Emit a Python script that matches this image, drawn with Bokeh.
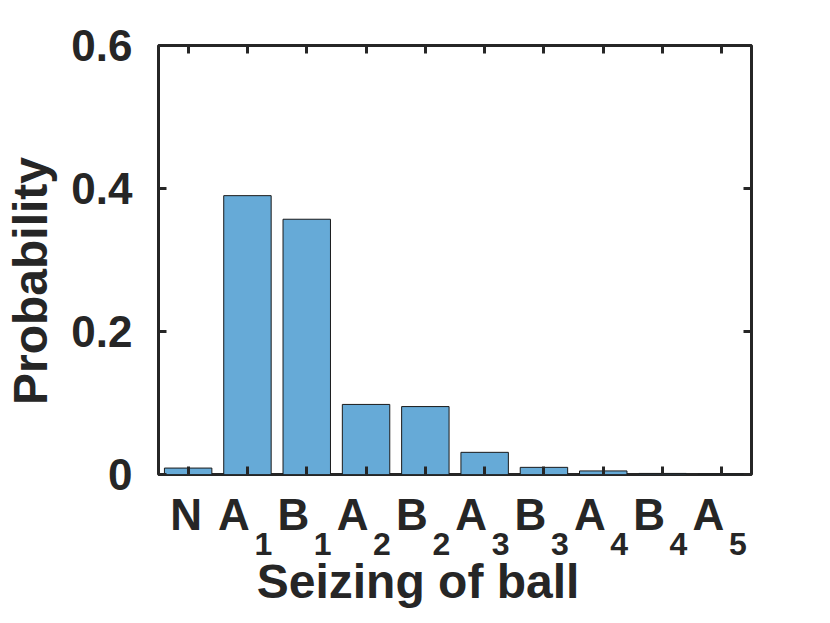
from bokeh.plotting import figure
from bokeh.models import (Range1d, FixedTicker, LinearAxis,
                          CustomJSTickFormatter, NumeralTickFormatter)
from bokeh.embed import file_html
from bokeh.resources import INLINE

# ---- data ----
letters = ["N", "A", "B", "A", "B", "A", "B", "A", "B", "A"]
subscripts = ["", "1", "1", "2", "2", "3", "3", "4", "4", "5"]
probability = [0.009, 0.390, 0.357, 0.098, 0.095, 0.031, 0.010, 0.005, 0.0015, 0.0005]
y_ticks = [0, 0.2, 0.4, 0.6]
x_title = "Seizing of ball"
y_title = "Probability"

xs = [i + 1 for i in range(len(letters))]

FONT = "Liberation Sans"
INK = "#262626"
BAR = "#66aad7"

FRAME_W, FRAME_H = 594, 429
W, H = 814, 620
LEFT, TOP = 157, 45
PX = FRAME_W / 10.0          # pixels per category unit
PY = FRAME_H / 0.6           # pixels per probability unit

p = figure(width=W, height=H, output_backend="svg", toolbar_location=None,
           x_range=Range1d(0.5, 10.5), y_range=Range1d(0, 0.6),
           min_border_left=LEFT, min_border_right=W - LEFT - FRAME_W,
           min_border_top=TOP, min_border_bottom=H - TOP - FRAME_H)
p.xgrid.visible = False
p.ygrid.visible = False
p.outline_line_color = INK
p.outline_line_width = 3
p.background_fill_color = "white"
p.border_fill_color = "white"

p.vbar(x=xs, top=probability, width=0.8, fill_color=BAR,
       line_color="#1a1a1a", line_width=1)

def blank():
    return CustomJSTickFormatter(code="return ''")

def tick_axis(ax):
    ax.axis_line_color = None
    ax.major_tick_in = 8
    ax.major_tick_out = 0
    ax.major_tick_line_width = 3
    ax.major_tick_line_color = INK
    ax.minor_tick_line_color = None

def text_axis(ax, size, standoff):
    ax.axis_line_color = None
    ax.major_tick_line_color = None
    ax.major_tick_in = 0
    ax.major_tick_out = 0
    ax.minor_tick_line_color = None
    ax.major_label_text_font = FONT
    ax.major_label_text_font_style = "bold"
    ax.major_label_text_font_size = size
    ax.major_label_text_color = INK
    ax.major_label_standoff = standoff

# bottom: tick-only axis
xa = p.xaxis[0]
xa.ticker = FixedTicker(ticks=xs)
xa.formatter = blank()
tick_axis(xa)
xa.major_label_standoff = 0
xa.major_label_text_font_size = "1px"

# bottom: category letters (A/B shifted left so letter+subscript is centred)
let_ticks = [x + (-2 if s == "" else -13.5) / PX for x, s in zip(xs, subscripts)]
la = LinearAxis(ticker=FixedTicker(ticks=let_ticks),
                formatter=CustomJSTickFormatter(args=dict(labs=letters),
                                                code="return labs[Math.round(tick) - 1]"))
text_axis(la, "44px", 15)
p.add_layout(la, "below")

# bottom: subscripts
sub_ticks = [x + 16 / PX for x, s in zip(xs, subscripts) if s]
sa = LinearAxis(ticker=FixedTicker(ticks=sub_ticks),
                formatter=CustomJSTickFormatter(args=dict(labs=subscripts),
                                                code="return labs[Math.round(tick) - 1]"))
text_axis(sa, "32px", -9)
p.add_layout(sa, "below")

# bottom: x title
xt_pos = 5.5 - 37 / PX
xta = LinearAxis(ticker=FixedTicker(ticks=[xt_pos]),
                 formatter=CustomJSTickFormatter(args=dict(t=x_title), code="return t"))
text_axis(xta, "48px", -3)
p.add_layout(xta, "below")

# left y axis with numbers
ya = p.yaxis[0]
ya.ticker = FixedTicker(ticks=y_ticks)
ya.formatter = NumeralTickFormatter(format="0.[0]")
tick_axis(ya)
ya.major_label_text_font = FONT
ya.major_label_text_font_style = "bold"
ya.major_label_text_font_size = "44px"
ya.major_label_text_color = INK
ya.major_label_standoff = 26

# left: y title
yt_pos = 0.3 - 21 / PY
yta = LinearAxis(ticker=FixedTicker(ticks=[yt_pos]),
                 formatter=CustomJSTickFormatter(args=dict(t=y_title), code="return t"))
text_axis(yta, "48px", 12)
yta.major_label_orientation = "parallel"
p.add_layout(yta, "left")

# right and top axes (box ticks)
ra = LinearAxis(ticker=FixedTicker(ticks=y_ticks), formatter=blank())
tick_axis(ra)
ra.major_label_standoff = 0
ra.major_label_text_font_size = "1px"
p.add_layout(ra, "right")
ta = LinearAxis(ticker=FixedTicker(ticks=xs), formatter=blank())
tick_axis(ta)
ta.major_label_standoff = 0
ta.major_label_text_font_size = "1px"
p.add_layout(ta, "above")

open("out.html", "w").write(file_html(p, INLINE))
